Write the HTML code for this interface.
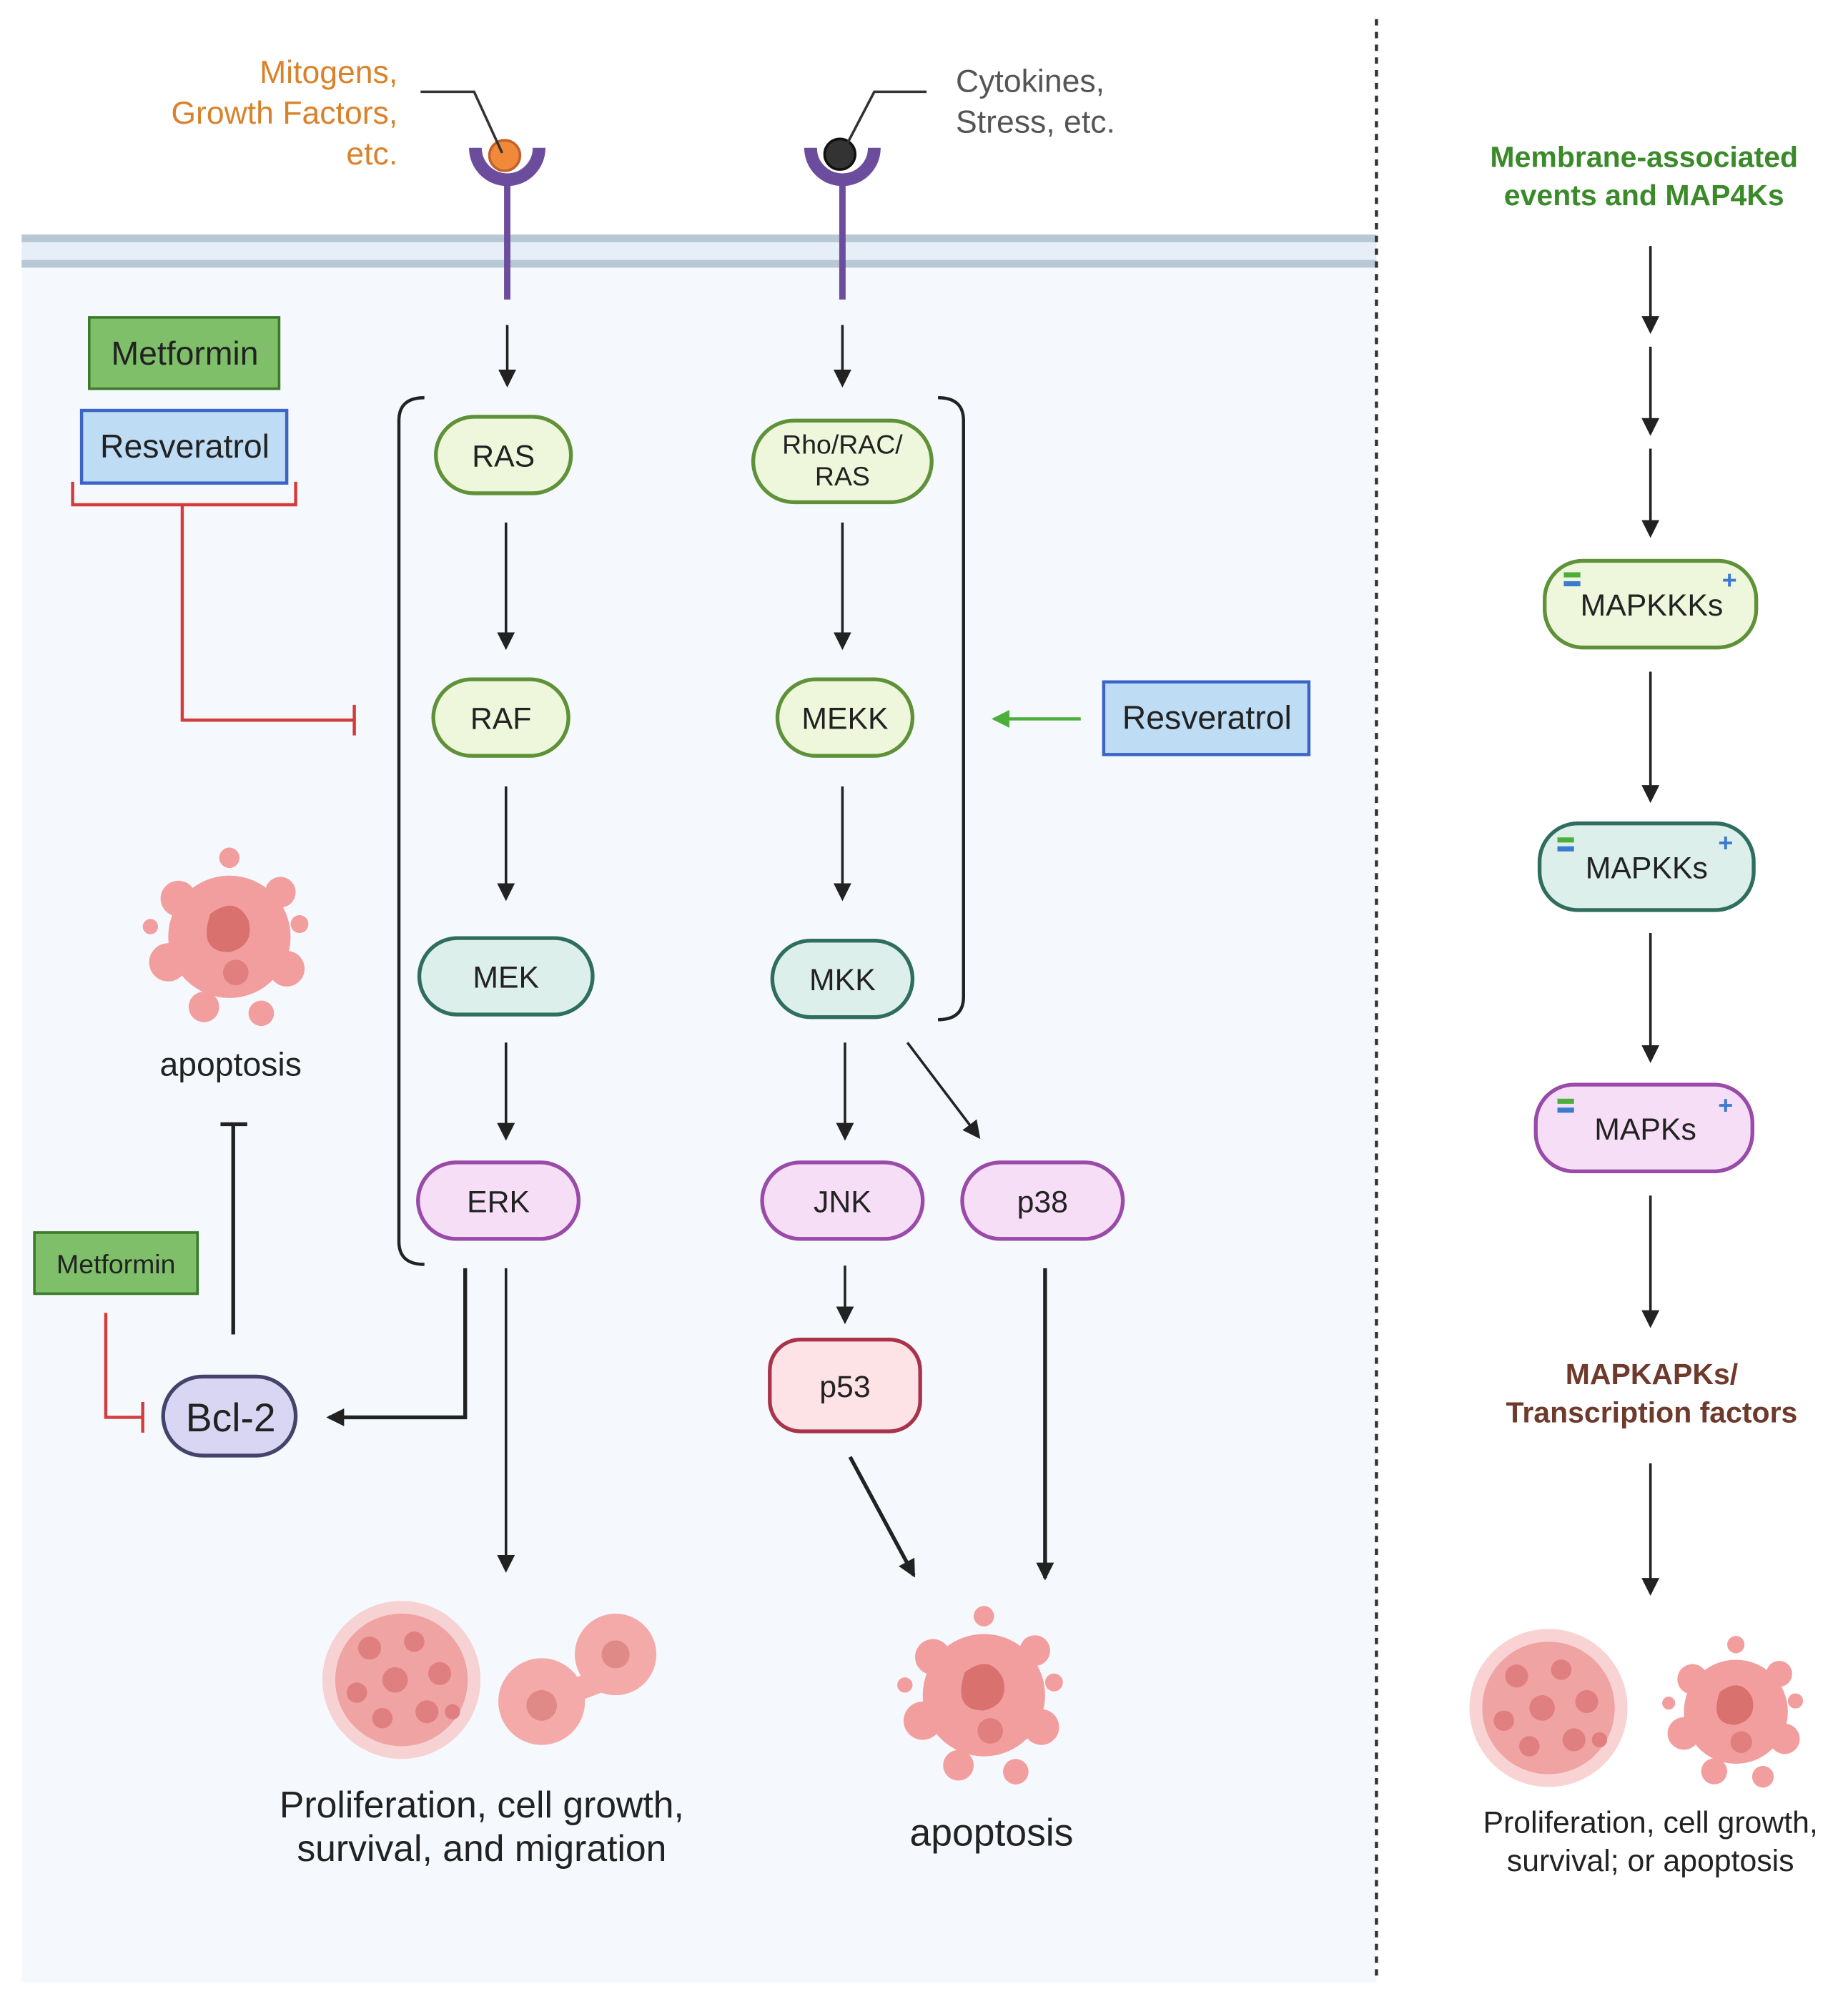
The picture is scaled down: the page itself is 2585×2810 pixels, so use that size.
<!DOCTYPE html>
<html><head><meta charset="utf-8"><style>
html,body{margin:0;padding:0;background:#fff}
svg{display:block}
text{font-family:"Liberation Sans",sans-serif}
</style></head><body>
<svg width="2585" height="2810" viewBox="0 0 1450 1576.2" preserveAspectRatio="none" xmlns="http://www.w3.org/2000/svg">
<defs>
<marker id="ah" markerWidth="8" markerHeight="8" refX="6" refY="4" orient="auto" markerUnits="userSpaceOnUse" viewBox="0 0 8 8"><path d="M0,0 L8,4 L0,8 Z" fill="#222"/></marker>
<marker id="ah2" markerWidth="14" markerHeight="14" refX="12" refY="7" orient="auto" markerUnits="userSpaceOnUse"><path d="M0,0 L14,7 L0,14 Z" fill="#222"/></marker>
<marker id="ahg" markerWidth="14" markerHeight="14" refX="12" refY="7" orient="auto" markerUnits="userSpaceOnUse"><path d="M0,0 L14,7 L0,14 Z" fill="#4caf3c"/></marker>
<g id="cellA">
<circle cx="0" cy="0" r="48" fill="#f29e9e"/>
<circle cx="-40" cy="-30" r="14" fill="#f29e9e"/><circle cx="40" cy="-35" r="12" fill="#f29e9e"/>
<circle cx="-48" cy="20" r="15" fill="#f29e9e"/><circle cx="45" cy="25" r="14" fill="#f29e9e"/>
<circle cx="-20" cy="55" r="12" fill="#f29e9e"/><circle cx="25" cy="60" r="10" fill="#f29e9e"/>
<circle cx="-62" cy="-8" r="6" fill="#f29e9e"/><circle cx="55" cy="-10" r="7" fill="#f29e9e"/>
<circle cx="0" cy="-62" r="8" fill="#f29e9e"/>
<path d="M-15,-18 q20,-15 30,5 q5,20 -15,25 q-25,0 -15,-30z" fill="#d9716f"/>
<circle cx="5" cy="28" r="10" fill="#e07f7d"/>
</g>
<g id="cellP">
<circle cx="0" cy="0" r="62" fill="#f8c8c8" opacity="0.8"/>
<circle cx="0" cy="0" r="52" fill="#f0a3a3"/>
<g fill="#e07f80">
<circle cx="-25" cy="-25" r="9"/><circle cx="10" cy="-30" r="8"/><circle cx="30" cy="-5" r="9"/><circle cx="-5" cy="0" r="10"/>
<circle cx="-35" cy="10" r="8"/><circle cx="20" cy="25" r="9"/><circle cx="-15" cy="30" r="8"/><circle cx="40" cy="25" r="6"/>
</g>
</g>
</defs>
<!-- cell background -->
<rect x="17" y="190" width="1063" height="1365" fill="#f5f9fd"/>
<rect x="17" y="186" width="1063" height="20" fill="#e6eff8"/>
<line x1="17" y1="187" x2="1080" y2="187" stroke="#b8c7d4" stroke-width="6"/>
<line x1="17" y1="207" x2="1080" y2="207" stroke="#b8c7d4" stroke-width="6"/>
<line x1="1080" y1="15" x2="1080" y2="1555" stroke="#333" stroke-width="2.5" stroke-dasharray="5,5"/>

<!-- receptors -->
<g stroke="#6c4c9c" fill="none">
<path d="M373,116 a25,25 0 0 0 50,0" stroke-width="10"/>
<line x1="398" y1="143" x2="398" y2="235" stroke-width="5"/>
<path d="M636,116 a25,25 0 0 0 50,0" stroke-width="10"/>
<line x1="661" y1="143" x2="661" y2="235" stroke-width="5"/>
</g>
<circle cx="396" cy="122" r="12" fill="#f08a3a" stroke="#c4602a" stroke-width="2"/>
<circle cx="659" cy="121" r="12" fill="#333" stroke="#111" stroke-width="2"/>
<polyline points="330,72 372,72 394,120" fill="none" stroke="#333" stroke-width="2"/>
<polyline points="727,72 686,72 662,118" fill="none" stroke="#333" stroke-width="2"/>
<g font-size="25" fill="#d9822b" text-anchor="end">
<text x="312" y="65">Mitogens,</text><text x="312" y="97">Growth Factors,</text><text x="312" y="129">etc.</text>
</g>
<g font-size="25" fill="#555"><text x="750" y="72">Cytokines,</text><text x="750" y="104">Stress, etc.</text></g>
<g font-size="23" fill="#3a8a2a" font-weight="bold" text-anchor="middle">
<text x="1290" y="131">Membrane-associated</text><text x="1290" y="161">events and MAP4Ks</text>
</g>

<!-- brackets -->
<path d="M333,312 q-20,0 -20,18 V974 q0,18 20,18" fill="none" stroke="#222" stroke-width="2.5"/>
<path d="M736,312 q20,0 20,18 V782 q0,18 -20,18" fill="none" stroke="#222" stroke-width="2.5"/>

<!-- arrows -->
<g stroke="#222" stroke-width="2" marker-end="url(#ah2)" fill="none">
<line x1="398" y1="255" x2="398" y2="302"/>
<line x1="661" y1="255" x2="661" y2="302"/>
<line x1="397" y1="410" x2="397" y2="508"/>
<line x1="397" y1="617" x2="397" y2="705"/>
<line x1="397" y1="818" x2="397" y2="893"/>
<line x1="661" y1="410" x2="661" y2="508"/>
<line x1="661" y1="617" x2="661" y2="705"/>
<line x1="663" y1="818" x2="663" y2="893"/>
<line x1="712" y1="818" x2="768" y2="892"/>
<line x1="663" y1="993" x2="663" y2="1037"/>
<line x1="397" y1="995" x2="397" y2="1232"/>
<line x1="667" y1="1143" x2="717" y2="1236" stroke-width="3"/>
<line x1="820" y1="995" x2="820" y2="1238" stroke-width="3"/>
<polyline points="365,995 365,1112 258,1112" stroke-width="3"/>
<line x1="1295" y1="193" x2="1295" y2="260"/>
<line x1="1295" y1="272" x2="1295" y2="340"/>
<line x1="1295" y1="352" x2="1295" y2="420"/>
<line x1="1295" y1="527" x2="1295" y2="628"/>
<line x1="1295" y1="732" x2="1295" y2="832"/>
<line x1="1295" y1="938" x2="1295" y2="1040"/>
<line x1="1295" y1="1148" x2="1295" y2="1250"/>
</g>
<line x1="848" y1="564" x2="780" y2="564" stroke="#4caf3c" stroke-width="2.5" marker-end="url(#ahg)"/>

<!-- red inhibition -->
<g stroke="#d43c3c" stroke-width="2.5" fill="none">
<polyline points="57,378 57,396 232,396 232,378"/>
<polyline points="143,396 143,565 278,565"/>
<line x1="278" y1="553" x2="278" y2="577"/>
<polyline points="83,1030 83,1112 112,1112"/>
<line x1="112" y1="1100" x2="112" y2="1124"/>
</g>
<g stroke="#222" stroke-width="3"><line x1="183" y1="1047" x2="183" y2="882"/><line x1="173" y1="882" x2="194" y2="882"/></g>

<!-- boxes -->
<rect x="70" y="249" width="149" height="56" fill="#7fbf6a" stroke="#3a7a2a" stroke-width="2"/>
<text x="145" y="286" font-size="26" text-anchor="middle" fill="#222">Metformin</text>
<rect x="64" y="322" width="161" height="57" fill="#bfdcf5" stroke="#3a64c8" stroke-width="2.5"/>
<text x="145" y="359" font-size="26" text-anchor="middle" fill="#222">Resveratrol</text>
<rect x="866" y="535" width="161" height="57" fill="#bfdcf5" stroke="#3a64c8" stroke-width="2.5"/>
<text x="947" y="572" font-size="26" text-anchor="middle" fill="#222">Resveratrol</text>
<rect x="27" y="967" width="128" height="48" fill="#7fbf6a" stroke="#3a7a2a" stroke-width="2"/>
<text x="91" y="999" font-size="21" text-anchor="middle" fill="#222">Metformin</text>

<!-- nodes -->
<g stroke-width="3" font-size="24" text-anchor="middle">
<rect x="342" y="327" width="106" height="60" rx="30" fill="#eef7dc" stroke="#5f9238"/><text x="395" y="366" fill="#222" stroke="none">RAS</text>
<rect x="591" y="330" width="140" height="64" rx="32" fill="#eef7dc" stroke="#5f9238"/><text x="661" y="356" font-size="21" fill="#222" stroke="none">Rho/RAC/</text><text x="661" y="381" font-size="21" fill="#222" stroke="none">RAS</text>
<rect x="340" y="533" width="106" height="60" rx="30" fill="#eef7dc" stroke="#5f9238"/><text x="393" y="572" fill="#222" stroke="none">RAF</text>
<rect x="610" y="533" width="106" height="60" rx="30" fill="#eef7dc" stroke="#5f9238"/><text x="663" y="572" fill="#222" stroke="none">MEKK</text>
<rect x="329" y="736" width="136" height="60" rx="30" fill="#dcefeb" stroke="#2f6e5e"/><text x="397" y="775" fill="#222" stroke="none">MEK</text>
<rect x="606" y="738" width="110" height="60" rx="30" fill="#dcefeb" stroke="#2f6e5e"/><text x="661" y="777" fill="#222" stroke="none">MKK</text>
<rect x="328" y="912" width="126" height="60" rx="30" fill="#f6def6" stroke="#9a4aa8"/><text x="391" y="951" fill="#222" stroke="none">ERK</text>
<rect x="598" y="912" width="126" height="60" rx="30" fill="#f6def6" stroke="#9a4aa8"/><text x="661" y="951" fill="#222" stroke="none">JNK</text>
<rect x="755" y="912" width="126" height="60" rx="30" fill="#f6def6" stroke="#9a4aa8"/><text x="818" y="951" fill="#222" stroke="none">p38</text>
<rect x="604" y="1051" width="118" height="72" rx="24" fill="#fde3e6" stroke="#a8334a"/><text x="663" y="1096" fill="#222" stroke="none">p53</text>
<rect x="128" y="1080" width="104" height="62" rx="31" fill="#d9d6f3" stroke="#44446a"/><text x="181" y="1123" font-size="31" fill="#222" stroke="none">Bcl-2</text>
<rect x="1212" y="440" width="166" height="68" rx="30" fill="#eef7dc" stroke="#5f9238"/><text x="1296" y="483" fill="#222" stroke="none">MAPKKKs</text>
<rect x="1208" y="646" width="168" height="68" rx="30" fill="#dcefeb" stroke="#2f6e5e"/><text x="1292" y="689" fill="#222" stroke="none">MAPKKs</text>
<rect x="1205" y="851" width="170" height="68" rx="30" fill="#f6def6" stroke="#9a4aa8"/><text x="1291" y="894" fill="#222" stroke="none">MAPKs</text>
</g>
<g>
<rect x="1227" y="449" width="13" height="4" fill="#4caf3c"/><rect x="1227" y="456" width="13" height="4" fill="#3a7ad0"/><text x="1357" y="462" font-size="20" font-weight="bold" fill="#3a7ad0" text-anchor="middle">+</text>
<rect x="1222" y="657" width="13" height="4" fill="#4caf3c"/><rect x="1222" y="664" width="13" height="4" fill="#3a7ad0"/><text x="1354" y="668" font-size="20" font-weight="bold" fill="#3a7ad0" text-anchor="middle">+</text>
<rect x="1222" y="862" width="13" height="4" fill="#4caf3c"/><rect x="1222" y="869" width="13" height="4" fill="#3a7ad0"/><text x="1354" y="874" font-size="20" font-weight="bold" fill="#3a7ad0" text-anchor="middle">+</text>
</g>
<g font-size="23" fill="#6e3a2c" font-weight="bold" text-anchor="middle">
<text x="1296" y="1086">MAPKAPKs/</text><text x="1296" y="1116">Transcription factors</text>
</g>

<!-- cells -->
<use href="#cellA" transform="translate(180,735)"/>
<text x="181" y="844" font-size="26" text-anchor="middle" fill="#222">apoptosis</text>
<use href="#cellP" transform="translate(315,1318)"/>
<g transform="translate(455,1320)">
<circle cx="-30" cy="15" r="34" fill="#f4aaa8"/><circle cx="28" cy="-22" r="32" fill="#f4aaa8"/>
<path d="M-20,0 L20,-10 L25,5 L-15,20z" fill="#f4aaa8"/>
<circle cx="-30" cy="18" r="12" fill="#e08a88"/><circle cx="28" cy="-22" r="11" fill="#e08a88"/>
</g>
<text x="378" y="1426" font-size="29" text-anchor="middle" fill="#222">Proliferation, cell growth,</text>
<text x="378" y="1460" font-size="29" text-anchor="middle" fill="#222">survival, and migration</text>
<use href="#cellA" transform="translate(772,1330)"/>
<text x="778" y="1448" font-size="30" text-anchor="middle" fill="#222">apoptosis</text>
<use href="#cellP" transform="translate(1215,1340)"/>
<use href="#cellA" transform="translate(1362,1343) scale(0.85)"/>
<text x="1295" y="1438" font-size="24" text-anchor="middle" fill="#222">Proliferation, cell growth,</text>
<text x="1295" y="1468" font-size="24" text-anchor="middle" fill="#222">survival; or apoptosis</text>
</svg>
</body></html>
